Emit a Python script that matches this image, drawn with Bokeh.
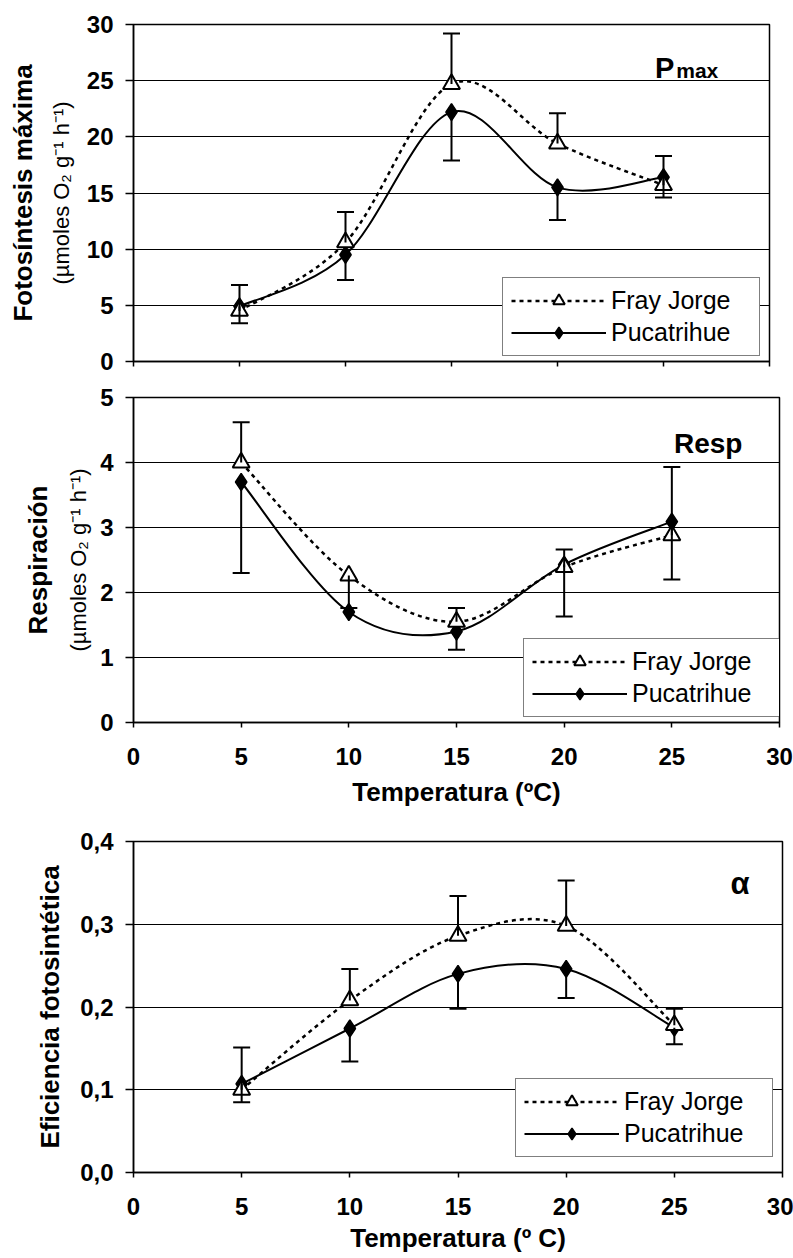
import math
from bokeh.plotting import figure
from bokeh.layouts import column
from bokeh.models import (Range1d, FixedTicker, CustomJSTickFormatter, Label, LinearAxis,
                          Legend, LegendItem, Whisker, TeeHead, ColumnDataSource)
from bokeh.embed import file_html
from bokeh.resources import INLINE

FONT = "Liberation Sans"

# Temperatures (°C)
temps = [5, 10, 15, 20, 25]
series_names = ["Fray Jorge", "Pucatrihue"]

# Maximum photosynthesis (µmol O2 g-1 h-1)
pmax_fj = [4.5, 10.6, 24.7, 19.4, 15.7]
pmax_puc = [4.9, 9.5, 22.2, 15.5, 16.4]
pmax_fj_up = [2.3, 2.7, 4.5, 2.7, 2.6]
pmax_fj_dn = [0.0, 0.0, 0.0, 0.0, 0.0]
pmax_puc_up = [0.0, 0.0, 0.0, 0.0, 0.0]
pmax_puc_dn = [1.5, 2.25, 4.3, 2.9, 1.8]

# Respiration (µmol O2 g-1 h-1)
resp_fj = [4.0, 2.26, 1.55, 2.39, 2.88]
resp_puc = [3.7, 1.7, 1.4, 2.43, 3.09]
resp_fj_up = [0.62, 0.0, 0.21, 0.27, 1.05]
resp_fj_dn = [0.0, 0.5, 0.0, 0.0, 0.0]
resp_puc_up = [0.0, 0.0, 0.0, 0.0, 0.0]
resp_puc_dn = [1.4, 0.0, 0.28, 0.8, 0.89]

# Photosynthetic efficiency (alpha)
alpha_fj = [0.100, 0.208, 0.286, 0.298, 0.178]
alpha_puc = [0.107, 0.174, 0.240, 0.246, 0.175]
alpha_fj_up = [0.051, 0.038, 0.048, 0.055, 0.020]
alpha_fj_dn = [0.0, 0.0, 0.0, 0.0, 0.0]
alpha_puc_up = [0.0, 0.0, 0.0, 0.0, 0.0]
alpha_puc_dn = [0.022, 0.040, 0.042, 0.035, 0.020]

x_ticks = [0, 5, 10, 15, 20, 25, 30]
pmax_ticks = [0, 5, 10, 15, 20, 25, 30]
resp_ticks = [0, 1, 2, 3, 4, 5]
alpha_ticks = [0.0, 0.1, 0.2, 0.3, 0.4]

unit_text = "(µmoles O₂ g⁻¹ h⁻¹)"


def smooth_segments(xs, ys, t=1.0 / 6.0):
    """Cubic Bezier control points for a smoothed line through the points."""
    n = len(xs)
    d = dict(x0=[], y0=[], x1=[], y1=[], cx0=[], cy0=[], cx1=[], cy1=[])
    for i in range(n - 1):
        xp, yp = (xs[i - 1], ys[i - 1]) if i > 0 else (xs[i], ys[i])
        xn, yn = (xs[i + 2], ys[i + 2]) if i + 2 < n else (xs[i + 1], ys[i + 1])
        d["x0"].append(xs[i]); d["y0"].append(ys[i])
        d["x1"].append(xs[i + 1]); d["y1"].append(ys[i + 1])
        d["cx0"].append(xs[i] + (xs[i + 1] - xp) * t)
        d["cy0"].append(ys[i] + (ys[i + 1] - yp) * t)
        d["cx1"].append(xs[i + 1] - (xn - xs[i]) * t)
        d["cy1"].append(ys[i + 1] - (yn - ys[i]) * t)
    return ColumnDataSource(d)


def add_errors(p, xs, ys, up, dn):
    ux = [x for x, e in zip(xs, up) if e > 0]
    uy = [y for y, e in zip(ys, up) if e > 0]
    ue = [e for e in up if e > 0]
    dx = [x for x, e in zip(xs, dn) if e > 0]
    dy = [y for y, e in zip(ys, dn) if e > 0]
    de = [e for e in dn if e > 0]
    if ux:
        src = ColumnDataSource(dict(base=ux, lower=uy, upper=[a + b for a, b in zip(uy, ue)]))
        p.add_layout(Whisker(source=src, base="base", lower="lower", upper="upper",
                             line_color="black", line_width=2, level="glyph",
                             upper_head=TeeHead(size=17, line_color="black", line_width=2),
                             lower_head=None))
    if dx:
        src = ColumnDataSource(dict(base=dx, upper=dy, lower=[a - b for a, b in zip(dy, de)]))
        p.add_layout(Whisker(source=src, base="base", lower="lower", upper="upper",
                             line_color="black", line_width=2, level="glyph",
                             lower_head=TeeHead(size=17, line_color="black", line_width=2),
                             upper_head=None))


def make_panel(fj, puc, fj_up, fj_dn, puc_up, puc_dn, y_max, y_ticks,
               frame_w, frame_h, b_left, b_right, b_top, b_bottom,
               legend_loc, x_title, x_title_standoff, y_fmt,
               y_title, y_title_standoff, y_unit_standoff):
    p = figure(frame_width=frame_w, frame_height=frame_h,
               min_border_left=b_left, min_border_right=b_right,
               min_border_top=b_top, min_border_bottom=b_bottom,
               x_range=Range1d(0, 30), y_range=Range1d(0, y_max),
               output_backend="svg", toolbar_location=None,
               background_fill_color="white", border_fill_color="white",
               outline_line_color="black", outline_line_width=1.5)

    p.xgrid.grid_line_color = None
    p.ygrid.grid_line_color = "black"
    p.ygrid.grid_line_width = 1

    p.xaxis.ticker = FixedTicker(ticks=x_ticks)
    p.yaxis.ticker = FixedTicker(ticks=y_ticks)
    for ax in (p.xaxis[0], p.yaxis[0]):
        ax.axis_line_color = "black"
        ax.axis_line_width = 1.5
        ax.major_tick_line_color = "black"
        ax.major_tick_line_width = 1.5
        ax.minor_tick_line_color = None
        ax.major_tick_in = 0
        ax.major_label_text_font = FONT
        ax.major_label_text_font_style = "bold"
        ax.major_label_text_font_size = "24px"
        ax.major_label_text_color = "black"
    p.yaxis.major_tick_out = 8
    p.yaxis.major_label_standoff = 12
    p.xaxis.major_tick_out = 5
    p.xaxis.major_label_standoff = 20
    p.yaxis.formatter = CustomJSTickFormatter(code=y_fmt)

    if x_title:
        p.xaxis.axis_label = x_title
        p.xaxis.axis_label_text_font = FONT
        p.xaxis.axis_label_text_font_style = "bold"
        p.xaxis.axis_label_text_font_size = "26px"
        p.xaxis.axis_label_text_color = "black"
        p.xaxis.axis_label_standoff = x_title_standoff
    else:
        p.xaxis.formatter = CustomJSTickFormatter(code="return ''")

    # y titles: units line next to the ticks, bold name line further out
    yax = p.yaxis[0]
    title_axis = yax
    if y_unit_standoff is not None:
        yax.axis_label = unit_text
        yax.axis_label_text_font = FONT
        yax.axis_label_text_font_style = "normal"
        yax.axis_label_text_font_size = "22px"
        yax.axis_label_text_color = "black"
        yax.axis_label_standoff = y_unit_standoff
        title_axis = LinearAxis(ticker=FixedTicker(ticks=[]), axis_line_color=None,
                                major_tick_line_color=None, minor_tick_line_color=None,
                                major_tick_out=0, major_tick_in=0, minor_tick_out=0,
                                major_label_standoff=0)
        p.add_layout(title_axis, "left")
    title_axis.axis_label = y_title
    title_axis.axis_label_text_font = FONT
    title_axis.axis_label_text_font_style = "bold"
    title_axis.axis_label_text_font_size = "26px"
    title_axis.axis_label_text_color = "black"
    title_axis.axis_label_standoff = y_title_standoff

    fj_line = p.bezier(x0="x0", y0="y0", x1="x1", y1="y1", cx0="cx0", cy0="cy0",
                       cx1="cx1", cy1="cy1", source=smooth_segments(temps, fj),
                       line_color="black", line_width=2.5, line_dash="4 4")
    puc_line = p.bezier(x0="x0", y0="y0", x1="x1", y1="y1", cx0="cx0", cy0="cy0",
                        cx1="cx1", cy1="cy1", source=smooth_segments(temps, puc),
                        line_color="black", line_width=2)

    add_errors(p, temps, fj, fj_up, fj_dn)
    add_errors(p, temps, puc, puc_up, puc_dn)

    puc_pts = p.scatter(temps, puc, marker="diamond", size=17,
                        fill_color="black", line_color="black", line_width=1.5)
    fj_pts = p.scatter(temps, fj, marker="triangle", size=17,
                       fill_color="white", line_color="black", line_width=2)

    legend = Legend(items=[LegendItem(label=series_names[0], renderers=[fj_line, fj_pts]),
                           LegendItem(label=series_names[1], renderers=[puc_line, puc_pts])],
                    location=legend_loc, orientation="vertical",
                    label_text_font=FONT, label_text_font_size="25px",
                    label_text_color="black",
                    glyph_width=95, glyph_height=29, label_height=29,
                    label_width=140, label_standoff=5, spacing=3, padding=8,
                    margin=0, border_line_color="black", border_line_width=1.5,
                    background_fill_color="white", background_fill_alpha=1)
    p.add_layout(legend, "center")
    return p


int_fmt = "return tick.toFixed(0)"
comma_fmt = "return tick.toFixed(1).replace('.', ',')"

p1 = make_panel(pmax_fj, pmax_puc, pmax_fj_up, pmax_fj_dn, pmax_puc_up, pmax_puc_dn,
                30, pmax_ticks, 636, 337, 133, 24, 24, 18, (369, 5), "", 0, int_fmt,
                "Fotosíntesis máxima", 8, 10)
p2 = make_panel(resp_fj, resp_puc, resp_fj_up, resp_fj_dn, resp_puc_up, resp_puc_dn,
                5, resp_ticks, 646, 325, 127, 20, 18, 90, (390, 5),
                "Temperatura (ºC)", 9, int_fmt, "Respiración", 11, 6)
p3 = make_panel(alpha_fj, alpha_puc, alpha_fj_up, alpha_fj_dn, alpha_puc_up, alpha_puc_dn,
                0.4, alpha_ticks, 649, 331, 127, 17, 29, 86, (382, 15),
                "Temperatura (º C)", 5, comma_fmt, "Eficiencia fotosintética", 12, None)

# Panel tags
p1.add_layout(Label(x=24.6, y=26.1, text="P", text_font=FONT, text_font_style="bold",
                    text_font_size="29px", text_baseline="alphabetic", text_color="black"))
p1.add_layout(Label(x=25.6, y=25.9, text="max", text_font=FONT, text_font_style="bold",
                    text_font_size="21px", text_baseline="alphabetic", text_color="black"))
p2.add_layout(Label(x=25.1, y=4.30, text="Resp", text_font=FONT, text_font_style="bold",
                    text_font_size="28px", text_baseline="alphabetic", text_color="black"))
p3.add_layout(Label(x=27.6, y=0.349, text="α", text_font=FONT, text_font_style="bold",
                    text_font_size="31px", text_baseline="alphabetic", text_color="black"))

layout = column(p1, p2, p3, spacing=0)
open("out.html", "w").write(file_html(layout, INLINE))
